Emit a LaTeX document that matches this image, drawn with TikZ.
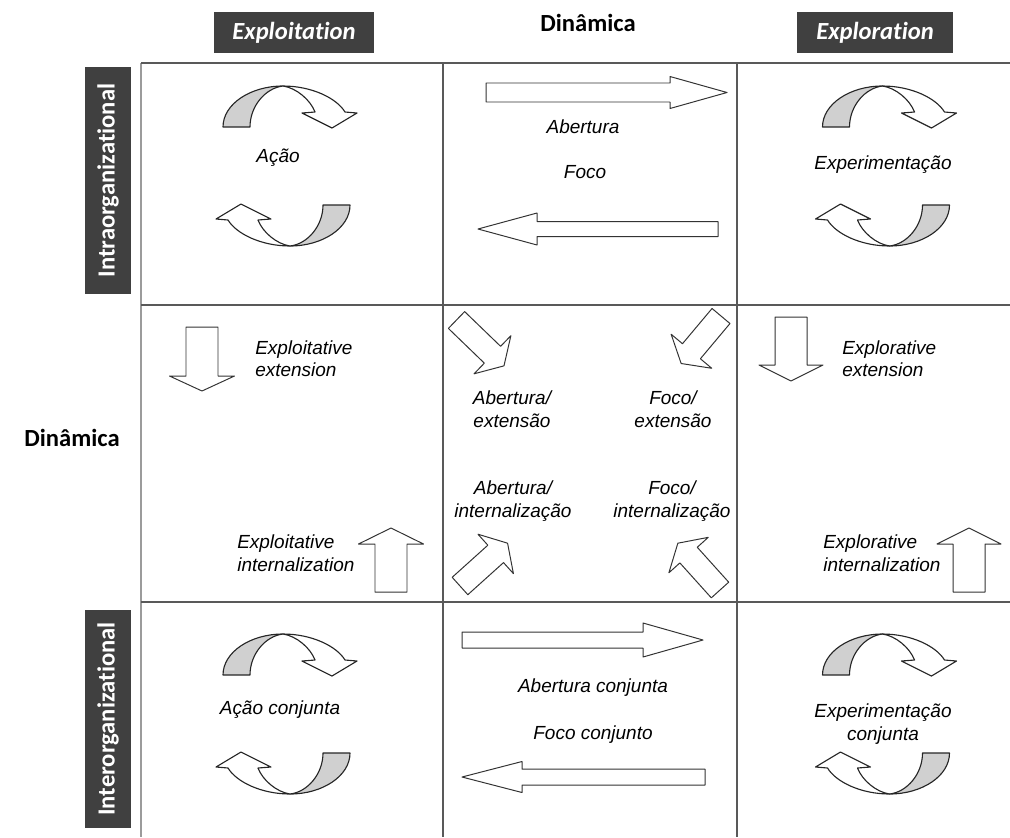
\documentclass[tikz,border=0pt]{standalone}
\usepackage{fontspec}
\setmainfont{Liberation Sans}
\newfontfamily\calibri[Ligatures=NoCommon]{Carlito}
\usetikzlibrary{positioning}
\definecolor{hdrgray}{HTML}{404040}
\definecolor{gridgray}{HTML}{595959}
\definecolor{curlgray}{HTML}{D0D0D0}

% block arrow along +x: shaft length, shaft half width, head half width, head length
\newcommand{\blockarrow}[4]{%
  \filldraw[blkarr] (0,-#2) -- (#1,-#2) -- (#1,-#3) -- ({#1+#4},0) -- (#1,#3) -- (#1,#2) -- (0,#2) -- cycle;}
% curved arrow, drawn round the centre of its pair
\newcommand{\curlarrow}{%
  \filldraw[curl, fill=curlgray] (-63.5,-39) .. controls (-63.5,-62) and (-36,-80) .. (-3.5,-80)
    .. controls (-21,-78) and (-36.5,-60) .. (-36.5,-39) -- cycle;
  \filldraw[curl, fill=white] (-3.5,-80) .. controls (25,-80) and (50,-68) .. (58.5,-54)
    -- (70.5,-53) -- (45.5,-38) -- (15.5,-53) -- (28.5,-54)
    .. controls (24,-66) and (10,-78) .. (-3.5,-80) -- cycle;}

\begin{document}
\begin{tikzpicture}[x=0.025cm, y=-0.025cm,
    blkarr/.style={draw=black!80, fill=white, line width=0.7pt, line join=round},
    curl/.style={draw=black!85, line width=0.8pt, line join=round},
    gridline/.style={draw=gridgray, line width=1.5pt},
    lbl/.style={font=\itshape\fontsize{13.5}{16}\selectfont, align=center, inner sep=0pt},
    hdr/.style={fill=hdrgray, text=white, font=\calibri\bfseries\itshape\fontsize{17.5}{20}\selectfont,
      minimum height=1.03cm, inner sep=0pt},
    side/.style={fill=hdrgray, text=white, font=\calibri\bfseries\fontsize{17.5}{20}\selectfont,
      minimum height=1.15cm, inner sep=0pt, rotate=90},
    dyn/.style={font=\calibri\bfseries\fontsize{17.5}{20}\selectfont, inner sep=0pt}]
  \useasboundingbox (0,0) rectangle (1010,837);

  % headers
  \node[hdr, minimum width=4cm] (exploit) at (294,32.5) {Exploitation};
  \node[hdr, minimum width=3.9cm] (explore) at (875,32.5) {Exploration};
  \node[dyn] (dyntop) at (588,23) {Dinâmica};
  \node[dyn] (dynleft) at (72,438) {Dinâmica};
  \node[side, minimum width=5.675cm] (intra) at (108,180.5) {Intraorganizational};
  \node[side, minimum width=5.45cm] (inter) at (108,719) {Interorganizational};

  % grid
  \draw[gridgray!60, line width=1pt] (141,63) -- (141,837);
  \draw[gridline] (141,63) -- (1010,63);
  \draw[gridline] (141,305) -- (1010,305);
  \draw[gridline] (141,602) -- (1010,602);
  \draw[gridline] (443,63) -- (443,837);
  \draw[gridline] (737,63) -- (737,837);

  % curved arrows
  \foreach \cx/\cy in {286.5/166, 886/166, 286.5/714, 886/714}{
    \begin{scope}[shift={(\cx,\cy)}]
      \curlarrow
    \end{scope}
    \begin{scope}[shift={(\cx,\cy)}, rotate=180]
      \curlarrow
    \end{scope}
  }

  % horizontal arrows
  \begin{scope}[shift={(486,92.5)}]\blockarrow{184}{9.5}{16}{57}\end{scope}
  \begin{scope}[shift={(718,229)}, rotate=180]\blockarrow{181}{7.5}{16}{59}\end{scope}
  \begin{scope}[shift={(462,640)}]\blockarrow{181}{8}{17}{60}\end{scope}
  \begin{scope}[shift={(705,777)}, rotate=180]\blockarrow{183}{8}{15.5}{60}\end{scope}

  % vertical arrows
  \begin{scope}[shift={(202,327)}, rotate=-90]\blockarrow{49}{16}{32.5}{15}\end{scope}
  \begin{scope}[shift={(391,592)}, rotate=90]\blockarrow{48}{16}{32.5}{16}\end{scope}
  \begin{scope}[shift={(791,317)}, rotate=-90]\blockarrow{48}{16}{32}{16}\end{scope}
  \begin{scope}[shift={(969,592)}, rotate=90]\blockarrow{48}{16}{32}{16}\end{scope}

  % diagonal arrows
  \begin{scope}[shift={(456.5,320)}, rotate=-44]\blockarrow{50}{11.7}{26.5}{16}\end{scope}
  \begin{scope}[shift={(721,316)}, rotate=-130]\blockarrow{46}{11.7}{26.5}{16}\end{scope}
  \begin{scope}[shift={(460,586)}, rotate=42]\blockarrow{48}{11.7}{26.5}{16}\end{scope}
  \begin{scope}[shift={(720,590)}, rotate=132]\blockarrow{47}{11.7}{26.5}{16}\end{scope}

  % labels
  \node[lbl] (acao) at (278,158) {Ação};
  \node[lbl] (exper) at (883,165) {Experimentação};
  \node[lbl] (acaoconj) at (280,710) {Ação conjunta};
  \node[lbl] (experconj) at (883,724) {Experimentação\\conjunta};
  \node[lbl] (abert) at (583,127) {Abertura};
  \node[lbl] (foco) at (585,172) {Foco};
  \node[lbl] (abertconj) at (593,688) {Abertura conjunta};
  \node[lbl] (fococonj) at (593,735) {Foco conjunto};
  \node[lbl] (abertext) at (512,409) {Abertura/\\extensão};
  \node[lbl] (focoext) at (673,409) {Foco/\\extensão};
  \node[lbl] (abertint) at (513,501) {Abertura/\\internalização};
  \node[lbl] (focoint) at (672,501) {Foco/\\internalização};
  \node[lbl, anchor=west, align=left] (exploitext) at (255,358.5) {Exploitative\\extension};
  \node[lbl, anchor=west, align=left] (exploitint) at (237,553) {Exploitative\\internalization};
  \node[lbl, anchor=west, align=left] (exploreext) at (842,358.5) {Explorative\\extension};
  \node[lbl, anchor=west, align=left] (exploreint) at (823,553) {Explorative\\internalization};
\end{tikzpicture}
\end{document}
